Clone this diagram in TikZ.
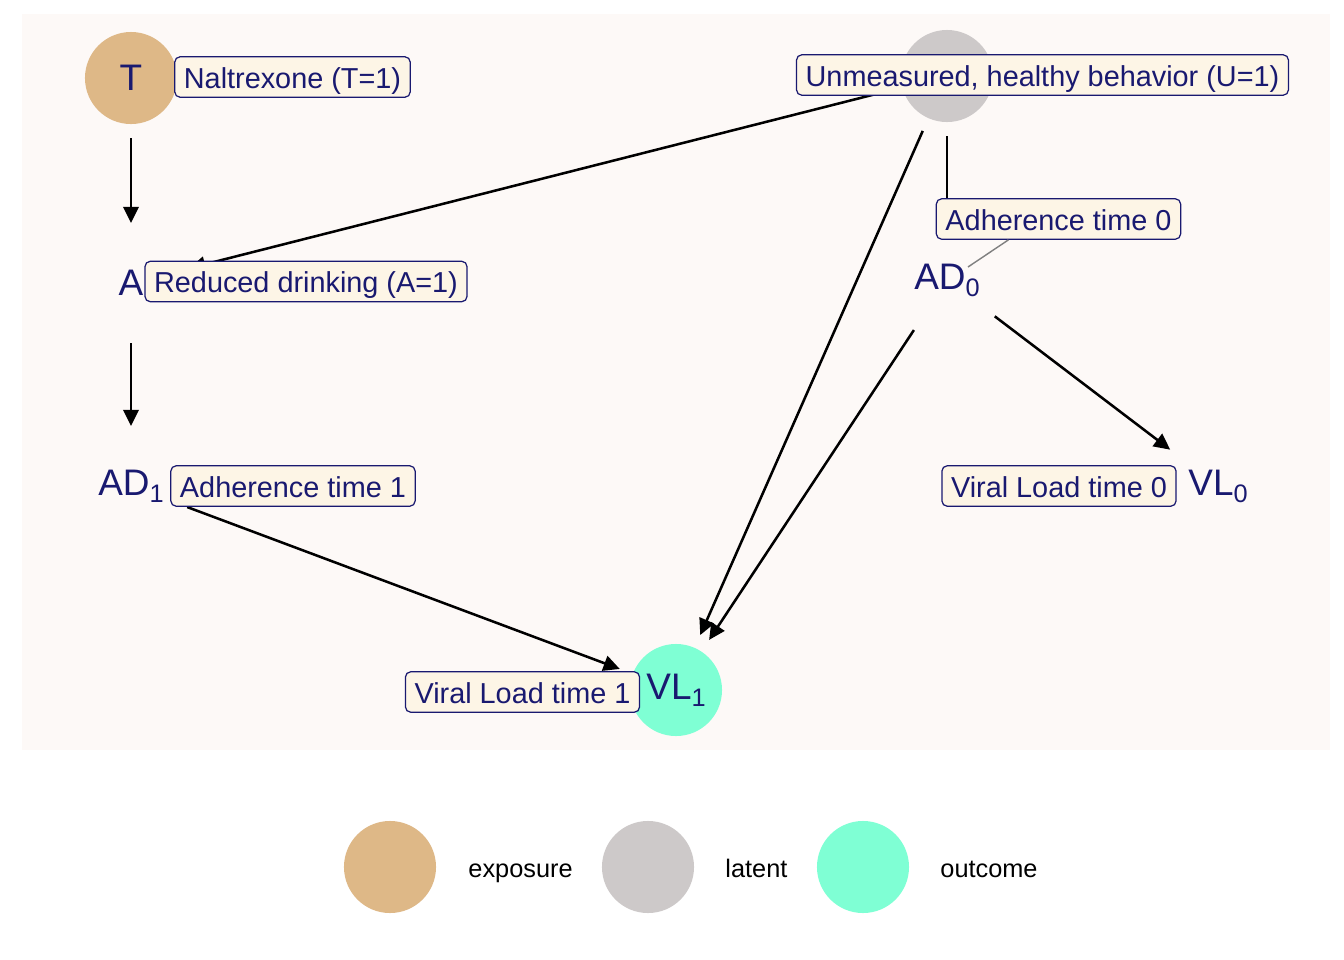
\documentclass[tikz,border=0pt]{standalone}
\usepackage{fontspec}
\setmainfont{Liberation Sans}
\usepackage{xcolor}
\usepackage{tikz}
\usetikzlibrary{arrows.meta}
\usetikzlibrary{positioning}
\definecolor{panel}{HTML}{FDF9F7}
\definecolor{tagfill}{HTML}{FDF5E6}
\definecolor{navy}{HTML}{191970}
\definecolor{exposure}{HTML}{DEB887}
\definecolor{latent}{HTML}{CDC9C9}
\definecolor{outcome}{HTML}{7FFFD4}
\tikzstyle{dagnode} = [circle, minimum size=9.2mm, inner sep=0pt, outer sep=1.4mm, text=navy, font=\fontsize{10.5}{12}\selectfont]
\tikzstyle{tagbox} = [rectangle, rounded corners=1.5pt, draw=navy, fill=tagfill, text=navy, line width=0.35pt, text height=8.9pt, text depth=2.6pt, inner xsep=2.6pt, inner ysep=0pt, font=\fontsize{8.2}{9}\selectfont]
\tikzstyle{arrow} = [line width=0.72pt, -{Triangle[length=4.6pt,width=4.4pt]}]
\tikzstyle{repel} = [gray, line width=0.4pt]
\tikzstyle{key} = [circle, minimum size=9.2mm, inner sep=0pt]
\tikzstyle{keytext} = [inner sep=0pt, text height=6.2pt, text depth=0pt, font=\fontsize{7.2}{8}\selectfont]
\newcommand{\lowsub}[1]{\raisebox{-2pt}{\fontsize{7.2}{8}\selectfont #1}}

\begin{document}
\begin{tikzpicture}[x=0.01cm, y=-0.01cm]
    \fill[white] (0,0) rectangle (1344,960);
    \useasboundingbox (0,0) rectangle (1344,960);
    \fill[panel] (22,14) rectangle (1330,750);
    %
    \node(T)[dagnode, fill=exposure] at (131,78) {T};
    \node(U)[dagnode, fill=latent] at (947,76) {};
    \node(A)[dagnode] at (131,283) {A};
    \node(AD0)[dagnode] at (947,280) {AD\lowsub{0}};
    \node(AD1)[dagnode] at (131,486) {AD\lowsub{1}};
    \node(VL0)[dagnode] at (1218,486) {VL\lowsub{0}};
    \node(VL1)[dagnode, fill=outcome] at (676,690) {VL\lowsub{1}};
    %
    \draw[arrow](T) -- (A);
    \draw[arrow](A) -- (AD1);
    \draw[arrow](U) -- (A);
    \draw[arrow](U) -- (AD0);
    \draw[arrow](U) -- (VL1);
    \draw[arrow](AD0) -- (VL1);
    \draw[arrow](AD0) -- (VL0);
    \draw[arrow](AD1) -- (VL1);
    %
    \node(Tlab)[tagbox] at (292.5,77) {Naltrexone (T=1)};
    \node(Ulab)[tagbox] at (1042.5,75) {Unmeasured, healthy behavior (U=1)};
    \node(Alab)[tagbox] at (306,281.5) {Reduced drinking (A=1)};
    \node(AD0lab)[tagbox] at (1058.5,219) {Adherence time 0};
    \node(AD1lab)[tagbox] at (293,486) {Adherence time 1};
    \node(VL0lab)[tagbox] at (1059,486) {Viral Load time 0};
    \node(VL1lab)[tagbox] at (522.5,692) {Viral Load time 1};
    \coordinate(AD0pt) at (968,267);
    \draw[repel]([xshift=-5mm]AD0lab.south) -- (AD0pt);
    %
    \node(keyexp)[key, fill=exposure] at (390,867) {};
    \node(keyexptext)[keytext, right=3.1mm of keyexp] {exposure};
    \node(keylat)[key, fill=latent] at (648,867) {};
    \node(keylattext)[keytext, right=3mm of keylat] {latent};
    \node(keyout)[key, fill=outcome] at (863,867) {};
    \node(keyouttext)[keytext, right=3mm of keyout] {outcome};
\end{tikzpicture}
\end{document}
